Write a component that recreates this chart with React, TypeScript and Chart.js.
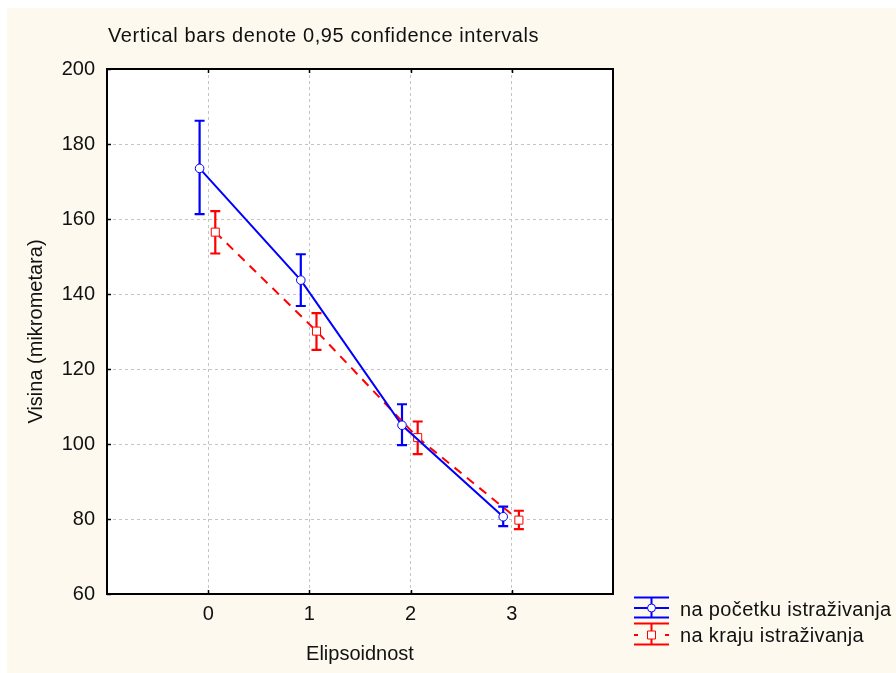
import React, { useEffect, useRef } from 'react';
import { Chart, registerables } from 'chart.js';

Chart.register(...registerables);

const categories = [0, 1, 2, 3];
const seriesNames = ['na početku istraživanja', 'na kraju istraživanja'];
const startMean = [173.5, 143.7, 105.0, 80.6];
const startLow = [161.3, 136.8, 99.7, 78.1];
const startHigh = [186.2, 150.6, 110.6, 83.3];
const endMean = [156.5, 130.1, 101.7, 79.7];
const endLow = [150.8, 125.1, 97.3, 77.3];
const endHigh = [162.1, 134.9, 106.0, 82.2];
const yTickValues = [60, 80, 100, 120, 140, 160, 180, 200];
const chartTitle = 'Vertical bars denote 0,95 confidence intervals';
const xTitle = 'Elipsoidnost';
const yTitle = 'Visina (mikrometara)';

const START_SHIFT = -0.085;
const END_SHIFT = 0.07;
const BLUE = '#0000ff';
const RED = '#ff0000';
const BG = '#fef9ef';
const FONT = "Arial, 'Liberation Sans', sans-serif";
const W = 889;
const H = 665;

const bgPlugin = {
  id: 'bgPlugin',
  beforeDraw(chart: any) {
    const { ctx, chartArea: a } = chart;
    ctx.save();
    ctx.fillStyle = BG;
    ctx.fillRect(0, 0, chart.width, chart.height);
    ctx.fillStyle = '#ffffff';
    ctx.fillRect(a.left, a.top, a.right - a.left, a.bottom - a.top);
    ctx.restore();
  },
};

function drawBar(ctx: any, x: number, yl: number, yh: number, color: string) {
  ctx.strokeStyle = color;
  ctx.lineWidth = 2.2;
  ctx.beginPath();
  ctx.moveTo(x, yl);
  ctx.lineTo(x, yh);
  ctx.moveTo(x - 5, yl);
  ctx.lineTo(x + 5, yl);
  ctx.moveTo(x - 5, yh);
  ctx.lineTo(x + 5, yh);
  ctx.stroke();
}

const errorPlugin = {
  id: 'errorPlugin',
  beforeDatasetsDraw(chart: any) {
    const { ctx, scales } = chart;
    const xs = scales.x;
    const ys = scales.y;
    ctx.save();
    categories.forEach((c, i) => {
      drawBar(ctx, xs.getPixelForValue(c + START_SHIFT), ys.getPixelForValue(startLow[i]), ys.getPixelForValue(startHigh[i]), BLUE);
      drawBar(ctx, xs.getPixelForValue(c + END_SHIFT), ys.getPixelForValue(endLow[i]), ys.getPixelForValue(endHigh[i]), RED);
    });
    ctx.restore();
  },
};

const framePlugin = {
  id: 'framePlugin',
  afterDraw(chart: any) {
    const { ctx, chartArea: a, scales } = chart;
    ctx.save();
    // frame
    ctx.strokeStyle = '#000';
    ctx.lineWidth = 2;
    ctx.strokeRect(a.left, a.top, a.right - a.left, a.bottom - a.top);
    // inner ticks
    ctx.lineWidth = 1.5;
    ctx.beginPath();
    yTickValues.forEach((v) => {
      const y = Math.round(scales.y.getPixelForValue(v)) + 0.5;
      ctx.moveTo(a.left, y);
      ctx.lineTo(a.left + 4, y);
    });
    categories.forEach((c) => {
      const x = Math.round(scales.x.getPixelForValue(c)) + 0.5;
      ctx.moveTo(x, a.bottom);
      ctx.lineTo(x, a.bottom - 4);
      ctx.moveTo(x, a.top);
      ctx.lineTo(x, a.top + 4);
    });
    ctx.stroke();

    // title
    ctx.fillStyle = '#111';
    ctx.font = `20px ${FONT}`;
    ctx.textAlign = 'left';
    ctx.textBaseline = 'alphabetic';
    (ctx as any).letterSpacing = '0.6px';
    ctx.fillText(chartTitle, 101, 34);

    // legend
    const lx0 = 627;
    const lx1 = 662;
    const cx = (lx0 + lx1) / 2;
    // row 1
    ctx.strokeStyle = BLUE;
    ctx.lineWidth = 2;
    ctx.beginPath();
    ctx.moveTo(lx0, 589.5); ctx.lineTo(lx1, 589.5);
    ctx.moveTo(lx0, 600); ctx.lineTo(lx1, 600);
    ctx.moveTo(lx0, 609.5); ctx.lineTo(lx1, 609.5);
    ctx.moveTo(cx, 589.5); ctx.lineTo(cx, 609.5);
    ctx.stroke();
    ctx.fillStyle = '#fff';
    ctx.lineWidth = 1;
    ctx.beginPath();
    ctx.arc(cx, 600, 4, 0, Math.PI * 2);
    ctx.fill();
    ctx.stroke();
    // row 2
    ctx.strokeStyle = RED;
    ctx.lineWidth = 2;
    ctx.beginPath();
    ctx.moveTo(lx0, 615.5); ctx.lineTo(lx1, 615.5);
    ctx.moveTo(lx0, 627); ctx.lineTo(lx0 + 4, 627);
    ctx.moveTo(lx1 - 4, 627); ctx.lineTo(lx1, 627);
    ctx.moveTo(lx0, 636.5); ctx.lineTo(lx1, 636.5);
    ctx.moveTo(cx, 615.5); ctx.lineTo(cx, 636.5);
    ctx.stroke();
    ctx.fillStyle = '#fff';
    ctx.lineWidth = 1;
    ctx.beginPath();
    ctx.rect(cx - 4, 623, 8, 8);
    ctx.fill();
    ctx.stroke();

    ctx.fillStyle = '#111';
    ctx.font = `20px ${FONT}`;
    (ctx as any).letterSpacing = '0.35px';
    ctx.fillText(seriesNames[0], 673, 608);
    ctx.fillText(seriesNames[1], 673, 634);
    (ctx as any).letterSpacing = '0px';
    ctx.restore();
  },
};

export default function App() {
  const ref = useRef<HTMLCanvasElement | null>(null);
  useEffect(() => {
    if (!ref.current) return;
    const tickFont = { family: FONT, size: 20 };
    const chart = new Chart(ref.current, {
      type: 'line',
      data: {
        datasets: [
          {
            label: seriesNames[0],
            data: categories.map((c, i) => ({ x: c + START_SHIFT, y: startMean[i] })),
            borderColor: BLUE,
            borderWidth: 2,
            pointStyle: 'circle',
            pointRadius: 4.3,
            pointBackgroundColor: '#ffffff',
            pointBorderColor: BLUE,
            pointBorderWidth: 1,
            tension: 0,
          },
          {
            label: seriesNames[1],
            data: categories.map((c, i) => ({ x: c + END_SHIFT, y: endMean[i] })),
            borderColor: RED,
            borderWidth: 2,
            borderDash: [9, 7],
            pointStyle: 'rect',
            pointRadius: 5.7,
            pointBackgroundColor: '#ffffff',
            pointBorderColor: RED,
            pointBorderWidth: 1,
            tension: 0,
          },
        ],
      },
      options: {
        animation: false,
        responsive: false,
        devicePixelRatio: 1,
        layout: { padding: { left: 0, top: 61, right: 283, bottom: 0 } },
        plugins: {
          legend: { display: false },
          title: { display: false },
          tooltip: { enabled: false },
        },
        scales: {
          x: {
            type: 'linear',
            min: -1,
            max: 4,
            afterFit: (s: any) => { s.height = 79; },
            ticks: {
              stepSize: 1,
              autoSkip: false,
              maxRotation: 0,
              padding: 8,
              color: '#111',
              font: tickFont,
              callback: (v: any) => (categories.includes(Number(v)) ? String(v) : ''),
            },
            grid: {
              drawTicks: false,
              lineWidth: 1,
              color: (c: any) => (c.tick && categories.includes(c.tick.value) ? '#c4c4c4' : 'rgba(0,0,0,0)'),
            },
            border: { display: false, dash: [3, 3] },
            title: {
              display: true,
              text: xTitle,
              color: '#111',
              font: { family: FONT, size: 20 },
              padding: { top: 0, bottom: 7 },
            },
          },
          y: {
            type: 'linear',
            min: 60,
            max: 200,
            afterFit: (s: any) => { s.width = 100; },
            ticks: {
              stepSize: 20,
              padding: 12,
              color: '#111',
              font: tickFont,
            },
            grid: {
              drawTicks: false,
              lineWidth: 1,
              color: (c: any) => (c.tick && c.tick.value > 60 && c.tick.value < 200 ? '#c4c4c4' : 'rgba(0,0,0,0)'),
            },
            border: { display: false, dash: [3, 3] },
            title: {
              display: true,
              text: yTitle,
              color: '#111',
              font: { family: FONT, size: 20 },
              padding: { top: 17, bottom: 0 },
            },
          },
        },
      },
      plugins: [bgPlugin, errorPlugin, framePlugin],
    } as any);
    return () => chart.destroy();
  }, []);

  return (
    <div style={{ position: 'absolute', left: 7, top: 8, width: W, height: H, overflow: 'hidden' }}>
      <canvas ref={ref} width={W} height={H} style={{ display: 'block', width: W, height: H }} />
    </div>
  );
}
